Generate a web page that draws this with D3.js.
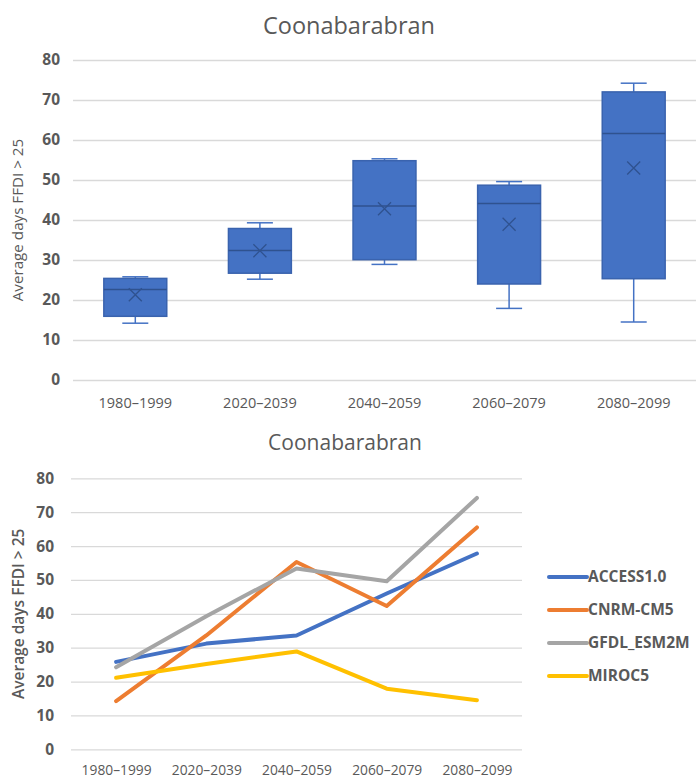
<!DOCTYPE html>
<html>
<head>
<meta charset="utf-8">
<script src="https://cdn.jsdelivr.net/npm/d3@7"></script>
<style>
  html, body { margin: 0; padding: 0; background: #fff; }
  svg { display: block; font-family: "Open Sans", sans-serif; }
</style>
</head>
<body>
<svg id="chart" width="696" height="778"></svg>
<script>
// Periods and modelled average days with FFDI > 25 at Coonabarabran
const periods = ["1980–1999", "2020–2039", "2040–2059", "2060–2079", "2080–2099"];
const access1 = [25.8, 31.2, 33.6, 46.0, 57.8];
const cnrmCm5 = [14.2, 33.6, 55.3, 42.3, 65.5];
const gfdlEsm2m = [24.2, 39.3, 53.4, 49.6, 74.2];
const miroc5 = [21.1, 25.2, 28.9, 17.9, 14.5];
const seriesNames = ["ACCESS1.0", "CNRM-CM5", "GFDL_ESM2M", "MIROC5"];
const seriesColors = ["#4472C4", "#ED7D31", "#A5A5A5", "#FFC000"];
const yTicks = [0, 10, 20, 30, 40, 50, 60, 70, 80];
const chartTitle = "Coonabarabran";
const yTitle = "Average days FFDI > 25";

const seriesValues = [access1, cnrmCm5, gfdlEsm2m, miroc5];
const textGrey = "#595959";
const gridGrey = "#D9D9D9";
const font = "'Open Sans', sans-serif";

const svg = d3.select("#chart");

// Exclusive quartile (as used by spreadsheet box plots)
function quartileExc(sorted, p) {
  const n = sorted.length;
  const pos = (n + 1) * p;
  const k = Math.floor(pos);
  const f = pos - k;
  if (k < 1) return sorted[0];
  if (k >= n) return sorted[n - 1];
  return sorted[k - 1] + f * (sorted[k] - sorted[k - 1]);
}

const boxStats = periods.map((p, i) => {
  const vals = seriesValues.map(s => s[i]).sort((a, b) => a - b);
  return {
    period: p,
    min: vals[0],
    q1: quartileExc(vals, 0.25),
    median: quartileExc(vals, 0.5),
    q3: quartileExc(vals, 0.75),
    max: vals[vals.length - 1],
    mean: d3.mean(vals)
  };
});

// ---------- Box plot (top) ----------
{
  const left = 73, right = 696, top = 60, bottom = 380;
  const x = d3.scaleBand().domain(periods).range([left, right]);
  const y = d3.scaleLinear().domain([0, 80]).range([bottom, top]);
  const g = svg.append("g");

  g.append("text")
    .attr("x", 349).attr("y", 34)
    .attr("text-anchor", "middle")
    .attr("font-size", 23.5).attr("fill", textGrey)
    .text(chartTitle);

  // grid + y ticks
  const yAxis = d3.axisLeft(y).tickValues(yTicks).tickSize(-(right - left)).tickPadding(13);
  const ya = g.append("g").attr("transform", `translate(${left},0)`).call(yAxis);
  ya.select(".domain").remove();
  ya.selectAll(".tick line").attr("stroke", gridGrey).attr("stroke-width", 1.3);
  ya.selectAll(".tick text")
    .attr("font-size", 15.5).attr("font-weight", "bold").attr("fill", textGrey)
    .attr("font-family", font);

  // x labels
  const xAxis = d3.axisBottom(x).tickSize(0).tickPadding(18);
  const xa = g.append("g").attr("transform", `translate(0,${bottom})`).call(xAxis);
  xa.select(".domain").remove();
  xa.selectAll(".tick text")
    .attr("font-size", 14.5).attr("fill", textGrey)
    .attr("font-family", font);

  g.append("text")
    .attr("transform", `translate(23,${(top + bottom) / 2}) rotate(-90)`)
    .attr("text-anchor", "middle")
    .attr("font-size", 15.2).attr("fill", textGrey)
    .text(yTitle);

  const bw = x.bandwidth() * 0.505;
  const capW = 26;
  const boxes = g.selectAll(".box").data(boxStats).enter().append("g")
    .attr("transform", d => `translate(${x(d.period) + x.bandwidth() / 2},0)`);

  // whiskers
  boxes.append("line")
    .attr("x1", 0).attr("x2", 0)
    .attr("y1", d => y(d.max)).attr("y2", d => y(d.q3))
    .attr("stroke", "#4472C4").attr("stroke-width", 1.5);
  boxes.append("line")
    .attr("x1", 0).attr("x2", 0)
    .attr("y1", d => y(d.q1)).attr("y2", d => y(d.min))
    .attr("stroke", "#4472C4").attr("stroke-width", 1.5);
  boxes.append("line")
    .attr("x1", -capW / 2).attr("x2", capW / 2)
    .attr("y1", d => y(d.max)).attr("y2", d => y(d.max))
    .attr("stroke", "#4472C4").attr("stroke-width", 1.5);
  boxes.append("line")
    .attr("x1", -capW / 2).attr("x2", capW / 2)
    .attr("y1", d => y(d.min)).attr("y2", d => y(d.min))
    .attr("stroke", "#4472C4").attr("stroke-width", 1.5);

  // box body
  boxes.append("rect")
    .attr("x", -bw / 2).attr("width", bw)
    .attr("y", d => y(d.q3)).attr("height", d => y(d.q1) - y(d.q3))
    .attr("fill", "#4472C4").attr("stroke", "#3A63AE").attr("stroke-width", 1.5);

  // median
  boxes.append("line")
    .attr("x1", -bw / 2).attr("x2", bw / 2)
    .attr("y1", d => y(d.median)).attr("y2", d => y(d.median))
    .attr("stroke", "#2F528F").attr("stroke-width", 1.5);

  // mean marker
  const m = 6.5;
  boxes.append("path")
    .attr("d", d => {
      const cy = y(d.mean);
      return `M${-m},${cy - m}L${m},${cy + m}M${-m},${cy + m}L${m},${cy - m}`;
    })
    .attr("stroke", "#2F528F").attr("stroke-width", 1.3).attr("fill", "none");
}

// ---------- Line chart (bottom) ----------
{
  const left = 71, right = 522, top = 478.3, bottom = 749.3;
  const x = d3.scalePoint().domain(periods).range([left, right]).padding(0.5);
  const y = d3.scaleLinear().domain([0, 80]).range([bottom, top]);
  const g = svg.append("g");

  g.append("text")
    .attr("x", 345).attr("y", 450)
    .attr("text-anchor", "middle")
    .attr("font-size", 21).attr("fill", textGrey)
    .text(chartTitle);

  const yAxis = d3.axisLeft(y).tickValues(yTicks).tickSize(-(right - left)).tickPadding(17);
  const ya = g.append("g").attr("transform", `translate(${left},0)`).call(yAxis);
  ya.select(".domain").remove();
  ya.selectAll(".tick line").attr("stroke", gridGrey).attr("stroke-width", 1.3);
  ya.selectAll(".tick text")
    .attr("font-size", 15.5).attr("font-weight", "bold").attr("fill", textGrey)
    .attr("font-family", font);

  const xAxis = d3.axisBottom(x).tickSize(0).tickPadding(16);
  const xa = g.append("g").attr("transform", `translate(0,${bottom})`).call(xAxis);
  xa.select(".domain").remove();
  xa.selectAll(".tick text")
    .attr("font-size", 13.8).attr("fill", textGrey)
    .attr("font-family", font);

  g.append("text")
    .attr("transform", `translate(24,${(top + bottom) / 2}) rotate(-90)`)
    .attr("text-anchor", "middle")
    .attr("font-size", 15.5).attr("font-weight", 600).attr("fill", textGrey)
    .text(yTitle);

  const line = d3.line().x((d, i) => x(periods[i])).y(d => y(d));
  seriesValues.forEach((vals, si) => {
    g.append("path")
      .attr("d", line(vals))
      .attr("fill", "none")
      .attr("stroke", seriesColors[si])
      .attr("stroke-width", 4)
      .attr("stroke-linejoin", "round")
      .attr("stroke-linecap", "round");
  });

  // legend
  const lg = g.append("g").attr("transform", "translate(549,577)");
  seriesNames.forEach((name, i) => {
    const row = lg.append("g").attr("transform", `translate(0,${i * 33})`);
    row.append("line")
      .attr("x1", 0).attr("x2", 38).attr("y1", 0).attr("y2", 0)
      .attr("stroke", seriesColors[i]).attr("stroke-width", 4)
      .attr("stroke-linecap", "round");
    row.append("text")
      .attr("x", 39).attr("y", 0).attr("dy", "0.35em")
      .attr("font-size", 15.5).attr("font-weight", "bold").attr("fill", textGrey)
      .text(name);
  });
}
</script>
</body>
</html>
